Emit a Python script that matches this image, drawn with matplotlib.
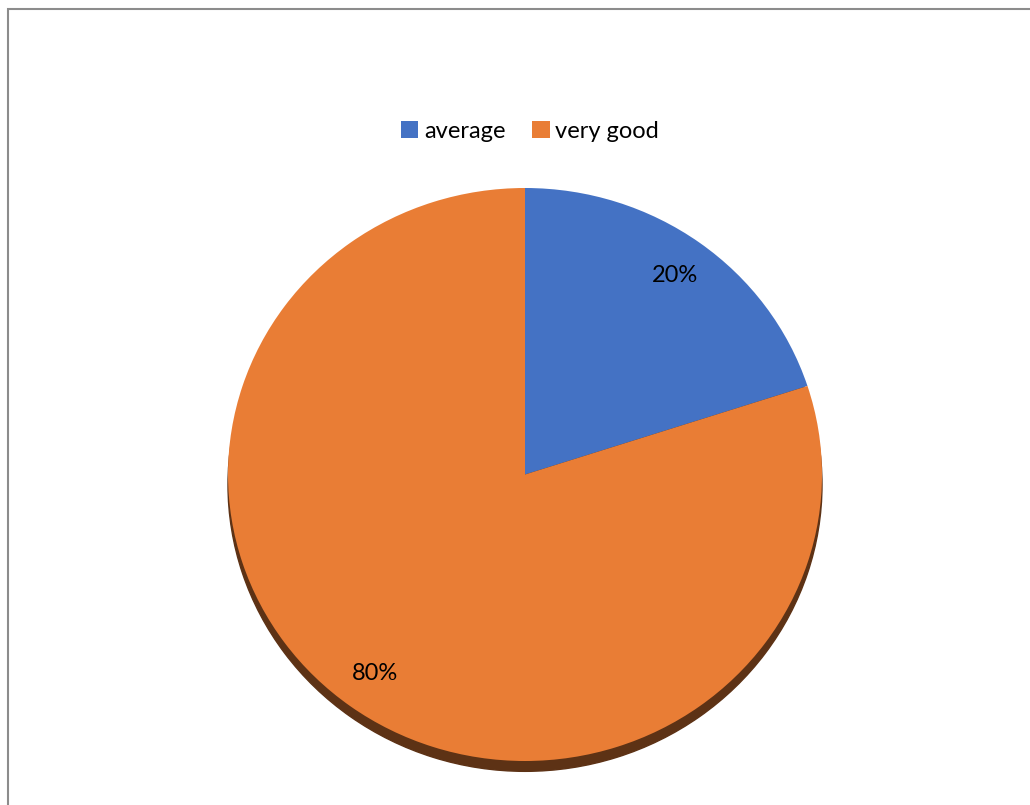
import matplotlib
matplotlib.use("Agg")
import matplotlib.pyplot as plt
from matplotlib.patches import Rectangle

labels = ["average", "very good"]
shares = [20, 80]
colors = ["#4472C4", "#E97D35"]

plt.rcParams["font.family"] = ["Lato", "DejaVu Sans"]

W, H = 1030, 805
fig = plt.figure(figsize=(W / 100, H / 100), dpi=100)

# outer frame (only left and top edges are visible in the picture)
fig.add_artist(Rectangle((8 / W, -0.02), 1.1, 1 - 9 / H + 0.02,
                         transform=fig.transFigure, fill=False,
                         edgecolor="#8c8c8c", linewidth=1.5))

# pie face is slightly wider than tall
x0, x1, y0, y1 = 228, 822, 188, 761
ax = fig.add_axes([x0 / W, 1 - y1 / H, (x1 - x0) / W, (y1 - y0) / H])
wedges, texts, autotexts = ax.pie(
    shares, colors=colors, startangle=90, counterclock=False,
    autopct="%1.0f%%", pctdistance=0.86,
    textprops={"fontsize": 17, "color": "black"},
    # shadow offset is in data units scaled by dpi/72
    shadow={"ox": 0, "oy": -0.026, "shade": 0.6, "alpha": 1},
)
for p in ax.patches:
    p.set_clip_on(False)
ax.set_aspect("auto")
ax.set_xlim(-1, 1)
ax.set_ylim(-1, 1)

fig.legend(wedges, labels, loc="center", bbox_to_anchor=(530 / W, 1 - 131 / H),
           ncol=2, frameon=False, fontsize=17, handlelength=0.75,
           handleheight=0.75, handletextpad=0.25, columnspacing=1.1)

fig.savefig("out.png", dpi=100)
